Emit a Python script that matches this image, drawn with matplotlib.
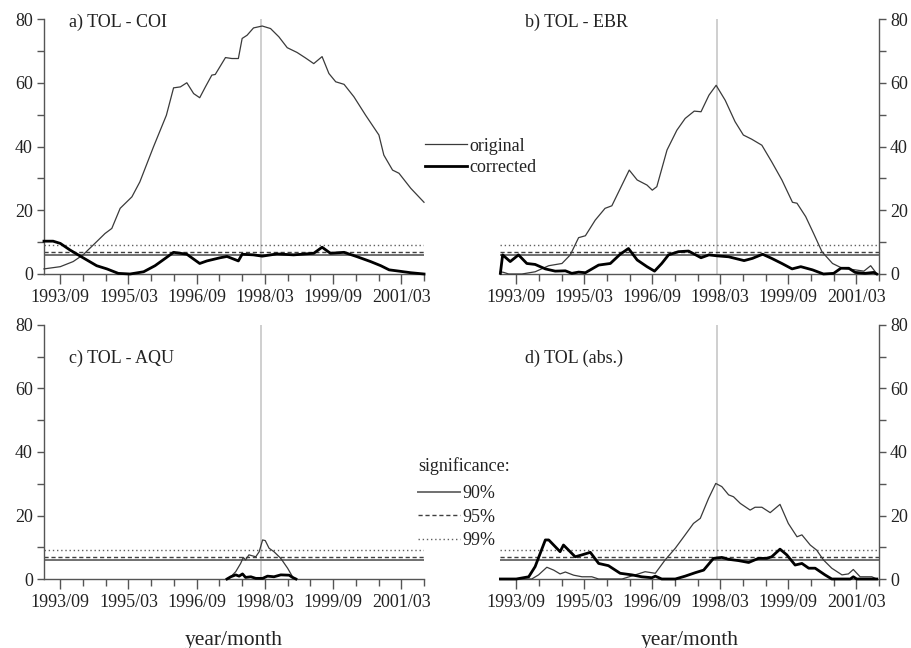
import matplotlib
matplotlib.use("Agg")
import matplotlib.pyplot as plt
from matplotlib.lines import Line2D
from matplotlib.ticker import MultipleLocator, FixedLocator

plt.rcParams['font.family'] = ['Liberation Serif', 'DejaVu Serif']

# x in months since 1993/09
tick_months = [0, 18, 36, 54, 72, 90]
tick_labels = ['1993/09', '1995/03', '1996/09', '1998/03', '1999/09', '2001/03']
event_month = 53
sig_levels = [6.0, 7.0, 9.0]          # 90%, 95%, 99%
sig_names = ['90%', '95%', '99%']

# a) TOL - COI
a_orig_x = [-4.3, 0, 3.4, 6, 8.7, 11.8, 13.6, 15.8, 18.9, 21, 24.6, 28, 29.9, 31.7, 33.4,
            35.2, 36.8, 38.3, 40, 40.9, 43.6, 45.3, 47, 48, 49.3, 51, 53.3, 55.5, 57.7,
            59.9, 62.5, 64.7, 66.9, 69.1, 70.9, 72.7, 74.9, 77.5, 80.6, 84.1, 85.4, 87.7,
            89.4, 92.5, 96]
a_orig_y = [1.6, 2.3, 3.9, 6, 9.1, 12.7, 14.3, 20.6, 24.2, 28.9, 39.9, 49.8, 58.4, 58.7, 60,
            56.6, 55.3, 58.7, 62.4, 62.6, 67.9, 67.6, 67.6, 73.9, 74.9, 77.2, 77.8, 77, 74.4,
            71, 69.5, 67.8, 66, 68.2, 62.9, 60.3, 59.5, 55.6, 49.8, 43.6, 37.3, 32.6,
            31.6, 26.9, 22.5]
a_corr_x = [-4.3, -1.9, 0, 2.6, 6, 9.6, 12.3, 15.3, 18.4, 22, 25, 27.7, 29.9, 33.4, 36.8,
            38.7, 42.2, 44, 47, 48, 51, 53.3, 57.2, 61.6, 66.9, 69.1, 71.3, 74.9, 78.4,
            81.9, 84.6, 86.8, 89.4, 92.5, 96]
a_corr_y = [10.3, 10.3, 9.6, 7.5, 5.1, 2.6, 1.6, 0.2, 0, 0.7, 2.6, 4.9, 6.8, 6.2, 3.3,
            4.1, 5.1, 5.5, 4.1, 6.2, 6.0, 5.6, 6.3, 6.0, 6.5, 8.4, 6.5, 6.8, 5.4,
            3.9, 2.6, 1.3, 0.9, 0.4, 0]

# b) TOL - EBR
b_orig_x = [-4.2, -3.3, -2, 1.5, 5, 8.6, 12.1, 14.3, 16.5, 18.3, 20.9, 23.5, 25.3, 29.9, 32,
            34.6, 36, 37.2, 39.9, 42.5, 44.7, 47.1, 48.9, 51, 52.9, 55.3, 57.9, 60.1, 62.3,
            65, 67.6, 70.3, 73.1, 74.3, 76.6, 78.7, 80.9, 83.7, 86.3, 89.7, 92, 93.8, 95,
            95.4]
b_orig_y = [0.7, 0.5, 0, 0, 0.7, 2.6, 3.3, 6, 11.4, 12, 16.9, 20.6, 21.4, 32.6, 29.5,
            27.9, 26.3, 27.4, 38.9, 45.1, 48.8, 51.1, 50.9, 56.1, 59.2, 54.5, 47.8, 43.6, 42.3,
            40.4, 35.2, 29.5, 22.5, 22.2, 18, 12.7, 7, 3.3, 1.8, 1.3, 0.9, 2.6, 0.7,
            0]
b_corr_x = [-4.2, -3.6, -1.6, 0.6, 2.8, 5, 7.7, 10.3, 13, 14.7, 16.5, 18.3, 21.8, 24.9,
            27.5, 29.7, 32, 34.6, 36.6, 38.5, 40.3, 42.9, 45.6, 48.9, 51, 53.1, 56.2, 60.3,
            62.5, 65.2, 67.6, 70.3, 73, 75.3, 78.4, 81.3, 84, 85.9, 88, 89.7, 92.3, 94.6,
            95.4]
b_corr_y = [0.2, 6, 3.9, 6.0, 3.3, 3.0, 1.6, 0.9, 1.0, 0.2, 0.6, 0.4, 2.8, 3.3,
            6.2, 8.0, 4.4, 2.3, 0.9, 3.3, 6, 7, 7.2, 5.1, 6, 5.7, 5.4, 4.2,
            4.9, 6.2, 4.9, 3.3, 1.6, 2.3, 1.3, 0, 0.2, 1.8, 1.8, 0.5, 0.2, 0.5,
            0]

# c) TOL - AQU
c_orig_x = [44, 45, 46.3, 47.6, 48.3, 48.9, 49.8, 51.6, 52.5, 53.4, 54.1, 55.1, 56.4, 58.2,
            60, 61.3, 62.2]
c_orig_y = [0, 0.7, 2.3, 4.9, 6.8, 6, 7.6, 7, 8.6, 12.3, 12.1, 9.7, 8.6, 6.5,
            3.4, 0.7, 0]
c_corr_x = [44, 45, 46.3, 47.2, 48.1, 48.9, 50.3, 51.6, 53.4, 54.7, 56.4, 58.2, 60.4, 61.3,
            62.2]
c_corr_y = [0, 0.7, 1.3, 0.9, 1.6, 0.5, 0.7, 0.2, 0.2, 0.9, 0.7, 1.3, 1.2, 0.5,
            0]

# d) TOL (abs.)
d_orig_x = [-4.2, 4.1, 5.9, 8.1, 9.9, 11.6, 13, 15.2, 17.4, 20, 21.8, 28, 31.5, 34.1, 36.8,
            39.4, 42.1, 44.7, 46.9, 48.7, 50.9, 52.8, 54.4, 56.2, 57.5, 59.3, 61.9, 63.2,
            65, 67.2, 69.8, 72, 74.3, 75.6, 77.8, 79.5, 81.3, 83.5, 86.2, 87.9, 89.2, 91,
            94.1, 95.4]
d_orig_y = [0, 0, 1.3, 3.7, 2.8, 1.6, 2.2, 1.2, 0.7, 0.7, 0, 0, 1.3, 2.3, 1.8,
            6, 9.7, 13.9, 17.5, 19.1, 25.4, 30.1, 29.1, 26.5, 25.9, 23.8, 21.7, 22.6,
            22.6, 20.9, 23.5, 17.5, 13.3, 13.9, 10.7, 9.1, 6, 3.4, 1.3, 1.6, 3.0, 0.7,
            0.7, 0]
d_corr_x = [-4.2, 0, 3.3, 5, 7.7, 8.6, 11.6, 12.5, 15.6, 17.4, 19.6, 21.8, 24.4, 27.5, 30.6,
            33.2, 35.9, 36.8, 38.5, 42.1, 44.7, 47.4, 49.6, 52.2, 54.4, 56.2, 58.8, 61.5,
            64.1, 66.3, 67.6, 69.8, 71.6, 73.8, 75.6, 77.4, 79.1, 81.7, 83.5, 88.4, 89.2,
            90.1, 95.4]
d_corr_y = [0, 0, 0.7, 3.9, 12.3, 12.3, 8.6, 10.7, 7, 7.6, 8.4, 4.9, 4.2, 1.8, 1.3,
            0.7, 0.4, 0.9, 0, 0, 0.9, 2, 2.8, 6.5, 6.8, 6.2, 5.8, 5.2,
            6.5, 6.5, 7, 9.4, 7.6, 4.4, 4.9, 3.4, 3.4, 1.3, 0, 0, 0.7,
            0, 0]

panels = [
    ('a) TOL - COI', a_orig_x, a_orig_y, a_corr_x, a_corr_y),
    ('b) TOL - EBR', b_orig_x, b_orig_y, b_corr_x, b_corr_y),
    ('c) TOL - AQU', c_orig_x, c_orig_y, c_corr_x, c_corr_y),
    ('d) TOL (abs.)', d_orig_x, d_orig_y, d_corr_x, d_corr_y),
]

W, H = 912, 648
fig = plt.figure(figsize=(W / 100, H / 100), dpi=100)

# axes boxes in pixels (left, right, top, bottom)
boxes = [(44, 424, 19, 274), (500, 879, 19, 274),
         (44, 424, 325, 579), (500, 879, 325, 579)]

axis_col = '#555555'
thin_col = '#3a3a3a'
sig_styles = [dict(ls='-', color='#707070', lw=1.4),
              dict(ls=(0, (3, 2)), color='#404040', lw=1.0),
              dict(ls=(0, (1, 2)), color='#606060', lw=1.0)]

axes = []
for i, (title, ox, oy, cx, cy) in enumerate(panels):
    l, r, t, b = boxes[i]
    ax = fig.add_axes([l / W, 1 - b / H, (r - l) / W, (b - t) / H])
    axes.append(ax)
    ax.set_xlim(-4.3, 96)
    ax.set_ylim(0, 80)

    ax.axvline(event_month, color='#cccccc', lw=1.3, zorder=1)
    for lev, st in zip(sig_levels, sig_styles):
        ax.axhline(lev, zorder=2, **st)
    ax.plot(ox, oy, color=thin_col, lw=0.9, zorder=3, clip_on=False)
    ax.plot(cx, cy, color='black', lw=2.0, zorder=4, clip_on=False)

    ax.text(0.065, 0.985 if i < 2 else 0.87, title, transform=ax.transAxes,
            fontsize=13, va='center', ha='left', color='#222222')

    ax.xaxis.set_major_locator(FixedLocator(tick_months))
    ax.set_xticklabels(tick_labels)
    ax.xaxis.set_minor_locator(MultipleLocator(6))
    ax.yaxis.set_major_locator(MultipleLocator(20))
    ax.yaxis.set_minor_locator(MultipleLocator(10))

    right = (i % 2 == 1)
    ax.spines['top'].set_visible(False)
    ax.spines['left'].set_visible(not right)
    ax.spines['right'].set_visible(right)
    for s in ('left', 'right', 'bottom'):
        ax.spines[s].set_color(axis_col)
        ax.spines[s].set_linewidth(1.0)
    if right:
        ax.yaxis.tick_right()
    ax.tick_params(which='both', direction='out', color=axis_col, width=1.0,
                   labelsize=13, labelcolor='#222222')
    ax.tick_params(axis='x', which='major', length=7, pad=4)
    ax.tick_params(axis='x', which='minor', length=5)
    ax.tick_params(axis='y', which='both', length=5, pad=3)
    if i >= 2:
        ax.set_xlabel('year/month', fontsize=15.5, labelpad=14, color='#222222')

# legend for series
h_series = [Line2D([], [], color=thin_col, lw=0.9),
            Line2D([], [], color='black', lw=2.0)]
fig.legend(h_series, ['original', 'corrected'], loc='center left',
           bbox_to_anchor=(425 / W, 1 - 157 / H), frameon=False, fontsize=13,
           handlelength=2.35, handletextpad=0.12, labelspacing=0.27,
           borderaxespad=0, borderpad=0, labelcolor='#222222')

# legend for significance levels
fig.text(418 / W, 1 - 466 / H, 'significance:', fontsize=13, va='center',
         ha='left', color='#222222')
h_sig = [Line2D([], [], **st) for st in sig_styles]
fig.legend(h_sig, sig_names, loc='upper left',
           bbox_to_anchor=(418 / W, 1 - 485 / H), frameon=False, fontsize=13,
           handlelength=2.35, handletextpad=0.12, labelspacing=0.36,
           borderaxespad=0, borderpad=0, labelcolor='#222222')

fig.savefig('out.png', dpi=100)
